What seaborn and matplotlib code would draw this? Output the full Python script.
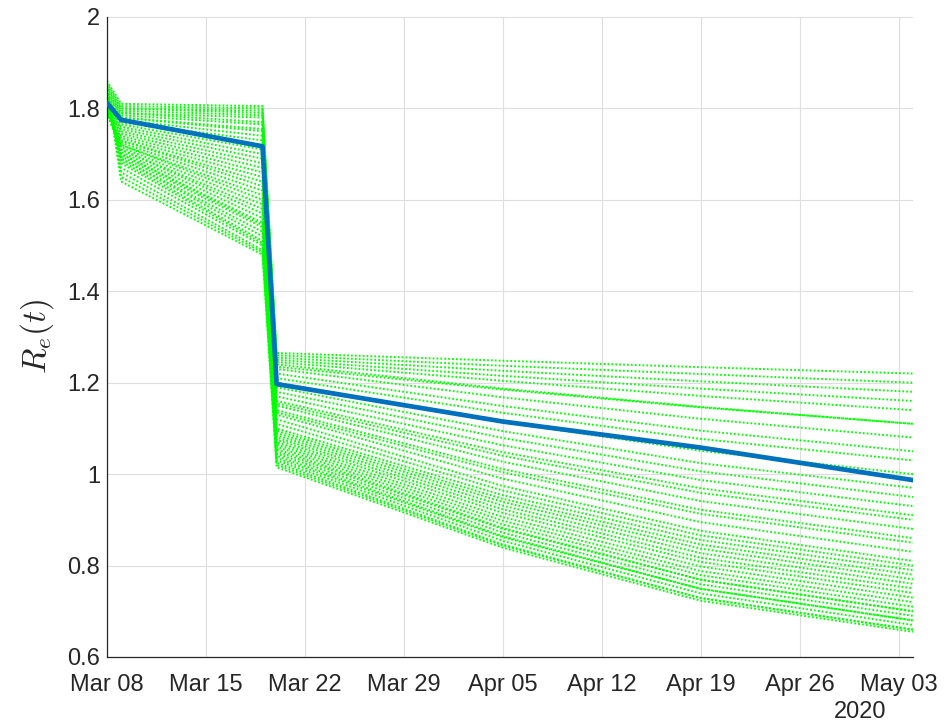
import matplotlib
matplotlib.use("Agg")
import matplotlib.pyplot as plt
import matplotlib.dates as mdates
from matplotlib.ticker import FuncFormatter
import numpy as np
import pandas as pd
import seaborn as sns

# Knot dates of the effective reproduction number trajectories
knot_dates = ["2020-03-08", "2020-03-09", "2020-03-19", "2020-03-20",
              "2020-04-05", "2020-04-19", "2020-05-04"]

# Ensemble members: R_e(t) at each knot date
r_mar08 = [1.86, 1.855, 1.85, 1.85, 1.845, 1.84, 1.84, 1.835, 1.83, 1.83,
           1.825, 1.82, 1.82, 1.815, 1.815, 1.81, 1.81, 1.805, 1.805, 1.80,
           1.80, 1.80, 1.795, 1.795, 1.79, 1.79, 1.79, 1.79, 1.80, 1.80,
           1.81, 1.81, 1.82, 1.82, 1.83, 1.83, 1.84, 1.84, 1.85, 1.85]
r_mar09 = [1.81, 1.805, 1.80, 1.80, 1.795, 1.79, 1.79, 1.785, 1.78, 1.78,
           1.775, 1.77, 1.77, 1.765, 1.76, 1.755, 1.75, 1.745, 1.74, 1.735,
           1.73, 1.73, 1.725, 1.72, 1.72, 1.715, 1.71, 1.71, 1.705, 1.70,
           1.70, 1.695, 1.69, 1.69, 1.685, 1.68, 1.67, 1.66, 1.65, 1.64]
r_mar19 = [1.805, 1.80, 1.795, 1.79, 1.785, 1.78, 1.77, 1.765, 1.755, 1.75,
           1.74, 1.73, 1.72, 1.71, 1.70, 1.69, 1.68, 1.67, 1.66, 1.65,
           1.64, 1.63, 1.62, 1.61, 1.60, 1.59, 1.58, 1.57, 1.56, 1.55,
           1.545, 1.54, 1.53, 1.52, 1.51, 1.505, 1.50, 1.49, 1.485, 1.48]
r_mar20 = [1.265, 1.26, 1.255, 1.25, 1.245, 1.24, 1.235, 1.23, 1.22, 1.21,
           1.20, 1.19, 1.18, 1.17, 1.16, 1.155, 1.15, 1.14, 1.135, 1.13,
           1.12, 1.11, 1.10, 1.095, 1.09, 1.085, 1.08, 1.075, 1.07, 1.065,
           1.06, 1.055, 1.05, 1.045, 1.04, 1.035, 1.03, 1.025, 1.02, 1.015]
r_apr05 = [1.248, 1.237, 1.226, 1.215, 1.204, 1.187, 1.185, 1.168, 1.149, 1.134,
           1.114, 1.094, 1.079, 1.063, 1.048, 1.040, 1.027, 1.011, 1.004, 0.990,
           0.974, 0.964, 0.954, 0.946, 0.939, 0.931, 0.923, 0.915, 0.906, 0.898,
           0.890, 0.882, 0.880, 0.872, 0.864, 0.862, 0.854, 0.846, 0.844, 0.839]
r_apr19 = [1.234, 1.219, 1.203, 1.187, 1.171, 1.147, 1.146, 1.121, 1.095, 1.077,
           1.051, 1.024, 1.006, 0.987, 0.969, 0.959, 0.941, 0.922, 0.913, 0.895,
           0.876, 0.866, 0.856, 0.846, 0.837, 0.827, 0.817, 0.808, 0.798, 0.788,
           0.779, 0.769, 0.769, 0.759, 0.749, 0.749, 0.739, 0.729, 0.729, 0.723]
r_may04 = [1.22, 1.20, 1.18, 1.16, 1.14, 1.11, 1.11, 1.08, 1.05, 1.03,
           1.00, 0.97, 0.95, 0.93, 0.91, 0.90, 0.88, 0.86, 0.85, 0.83,
           0.81, 0.80, 0.79, 0.78, 0.77, 0.76, 0.75, 0.74, 0.73, 0.72,
           0.71, 0.70, 0.70, 0.69, 0.68, 0.68, 0.67, 0.66, 0.66, 0.655]

# Central estimate
central_r = [1.812, 1.775, 1.717, 1.197, 1.115, 1.058, 0.987]

# Axis ticks
y_ticks = [0.6, 0.8, 1.0, 1.2, 1.4, 1.6, 1.8, 2.0]
x_tick_dates = ["2020-03-08", "2020-03-15", "2020-03-22", "2020-03-29",
                "2020-04-05", "2020-04-12", "2020-04-19", "2020-04-26",
                "2020-05-03"]
year_label = "2020"

dates = pd.to_datetime(knot_dates)
columns = [r_mar08, r_mar09, r_mar19, r_mar20, r_apr05, r_apr19, r_may04]
rows = []
for m in range(len(r_mar08)):
    for d, col in zip(dates, columns):
        rows.append({"member": m, "date": d, "R": col[m]})
ens = pd.DataFrame(rows)
central = pd.DataFrame({"date": dates, "R": central_r})

sns.set_style("white")
plt.rcParams["font.family"] = ["Liberation Sans", "DejaVu Sans"]
plt.rcParams["mathtext.fontset"] = "cm"

fig = plt.figure(figsize=(9.5, 7.25), dpi=100)
ax = fig.add_axes([0.1126, 0.0938, 0.8484, 0.8828])

sns.lineplot(data=ens, x="date", y="R", units="member", estimator=None,
             color="#00ff00", lw=1.4, linestyle=(0, (0.9, 1.1)),
             legend=False, ax=ax, zorder=2)
sns.lineplot(data=central, x="date", y="R", color="#0072BD", lw=3.4,
             legend=False, ax=ax, zorder=3)

ax.set_xlim(pd.Timestamp("2020-03-08"), pd.Timestamp("2020-05-04"))
ax.set_ylim(0.6, 2.0)
ax.set_xticks(pd.to_datetime(x_tick_dates))
ax.xaxis.set_major_formatter(mdates.DateFormatter("%b %d"))
ax.set_yticks(y_ticks)
ax.yaxis.set_major_formatter(FuncFormatter(lambda v, p: f"{v:g}"))

ax.grid(True, color="#dedede", lw=0.8)
ax.set_axisbelow(True)
for s in ["top", "right"]:
    ax.spines[s].set_visible(False)
for s in ["left", "bottom"]:
    ax.spines[s].set_color("#262626")
    ax.spines[s].set_linewidth(0.9)
ax.tick_params(direction="in", length=6, width=0.9, color="#262626",
               labelsize=17, labelcolor="#262626")
ax.tick_params(axis="x", pad=12)
ax.tick_params(axis="y", pad=5)

ax.set_xlabel("")
ax.set_ylabel(r"$R_e(t)$", fontsize=24, color="#262626", labelpad=8)
ax.text(0.935, -0.068, year_label, transform=ax.transAxes, ha="center",
        va="top", fontsize=17, color="#262626")

fig.savefig("out.png", dpi=100)
